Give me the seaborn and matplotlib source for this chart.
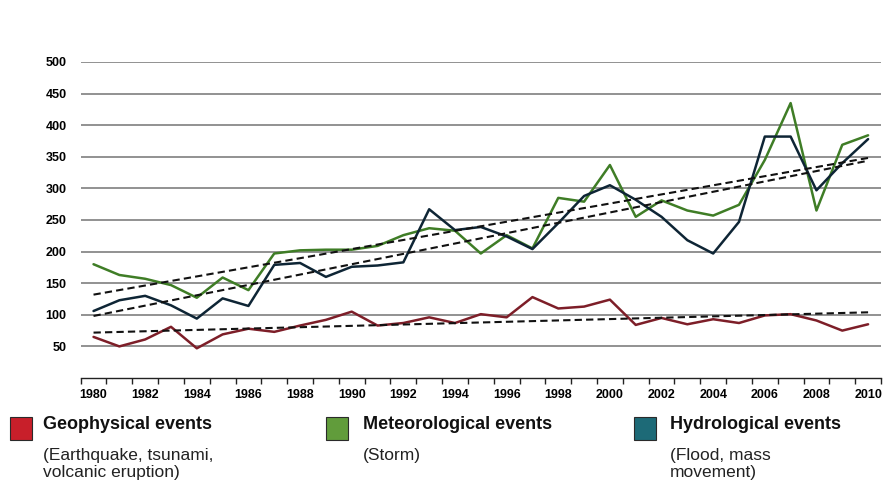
### Natural catastrophes worldwide 1980-2010
## number of events per year with linear trend lines

import matplotlib.pyplot as plt
import numpy as np
import pandas as pd
import seaborn as sns
from matplotlib.patches import Rectangle
from matplotlib.ticker import MultipleLocator

years = list(range(1980, 2011))
geophysical = [65, 50, 61, 81, 47, 69, 78, 73, 83, 92, 105, 83, 87, 96, 87, 101,
               96, 128, 110, 113, 124, 84, 95, 85, 93, 87, 99, 101, 91, 75, 85]
meteorological = [180, 163, 157, 147, 127, 159, 139, 197, 202, 203, 203, 209, 226, 237,
                  233, 197, 226, 205, 285, 279, 337, 255, 281, 265, 257, 274, 345, 435,
                  265, 369, 384]
hydrological = [106, 123, 130, 115, 94, 126, 114, 179, 182, 160, 176, 178, 183, 267, 234,
                239, 224, 204, 245, 288, 305, 282, 255, 218, 197, 247, 382, 382, 297,
                340, 378]

series_names = ["Geophysical", "Meteorological", "Hydrological"]
line_colors = ["#7d1e28", "#3f7d26", "#0e2535"]
legend_titles = ["Geophysical events", "Meteorological events", "Hydrological events"]
legend_subtitles = ["(Earthquake, tsunami,\nvolcanic eruption)", "(Storm)",
                    "(Flood, mass\nmovement)"]
legend_colors = ["#c81f2a", "#619c3b", "#1d6a77"]
ytick_vals = [50, 100, 150, 200, 250, 300, 350, 400, 450, 500]
xtick_vals = list(range(1980, 2011, 2))

sns.set_style("white")
plt.rcParams["font.family"] = ["Liberation Sans", "DejaVu Sans"]

df = pd.DataFrame({
    "year": years * 3,
    "events": geophysical + meteorological + hydrological,
    "type": sum([[n] * len(years) for n in series_names], []),
})

fig = plt.figure(figsize=(8.84, 4.92), dpi=100)
fig.patch.set_facecolor("white")
ax = fig.add_axes([0.0912, 0.2317, 0.9054, 0.6423])

# gridlines first so the lines sit on top
for v in ytick_vals:
    ax.axhline(v, color="#7f7f7f", lw=1.2, zorder=0)

sns.lineplot(data=df, x="year", y="events", hue="type", palette=line_colors,
             hue_order=series_names, lw=1.8, ax=ax, legend=False, zorder=3)

# dashed linear trends
for name in series_names:
    sub = df[df["type"] == name]
    sns.regplot(data=sub, x="year", y="events", scatter=False, ci=None, ax=ax,
                line_kws=dict(color="#111111", ls=(0, (3.5, 2)), lw=1.5, zorder=4))

ax.set_xlim(1979.5, 2010.5)
ax.set_ylim(0, 500)
ax.set_xlabel("")
ax.set_ylabel("")
for s in ["left", "right", "top"]:
    ax.spines[s].set_visible(False)
ax.spines["bottom"].set_color("#222222")
ax.spines["bottom"].set_linewidth(1.0)

ax.set_yticks(ytick_vals)
ax.set_yticklabels([str(v) for v in ytick_vals], fontweight="bold", fontsize=9,
                   color="black")
ax.tick_params(axis="y", length=0, pad=10)

ax.set_xticks(xtick_vals)
ax.set_xticklabels([str(v) for v in xtick_vals], fontweight="bold", fontsize=9,
                   color="black")
ax.xaxis.set_minor_locator(MultipleLocator(1, offset=0.5))
ax.tick_params(axis="x", which="major", length=0, pad=8)
ax.tick_params(axis="x", which="minor", length=4, width=1, color="#222222",
               direction="out", bottom=True)

# legend drawn as coloured boxes with two-level labels
box_x = [10, 326, 634]
text_x = [43, 363, 670]
for bx, tx, col, title, sub in zip(box_x, text_x, legend_colors, legend_titles,
                                   legend_subtitles):
    fig.add_artist(Rectangle((bx / 884, 1 - 440 / 492), 22 / 884, 23 / 492,
                             transform=fig.transFigure, facecolor=col,
                             edgecolor="#2a2a2a", lw=0.8))
    fig.text(tx / 884, 1 - 416 / 492, title, fontsize=13, fontweight="bold",
             va="top", ha="left", color="#111111")
    fig.text(tx / 884, 1 - 448 / 492, sub, fontsize=12.5, va="top", ha="left",
             color="#222222", linespacing=1.2)

plt.savefig("out.png", dpi=100)
plt.close()
